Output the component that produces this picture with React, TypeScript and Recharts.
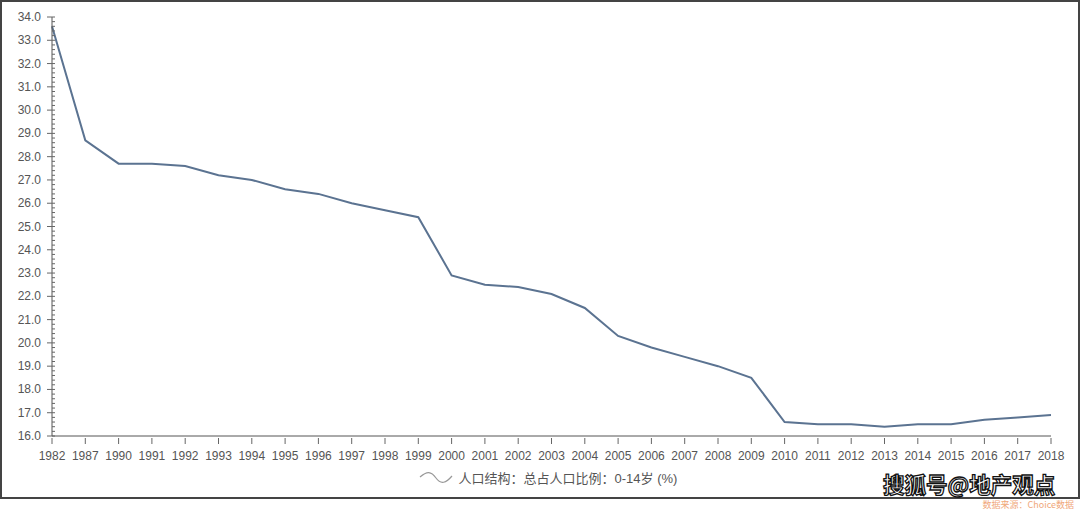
import { Legend, Line, LineChart, XAxis, YAxis } from "recharts";

const years = [
  "1982", "1987", "1990", "1991", "1992", "1993", "1994", "1995", "1996", "1997",
  "1998", "1999", "2000", "2001", "2002", "2003", "2004", "2005", "2006", "2007",
  "2008", "2009", "2010", "2011", "2012", "2013", "2014", "2015", "2016", "2017", "2018",
];

const share0to14 = [
  33.6, 28.7, 27.7, 27.7, 27.6, 27.2, 27.0, 26.6, 26.4, 26.0,
  25.7, 25.4, 22.9, 22.5, 22.4, 22.1, 21.5, 20.3, 19.8, 19.4,
  19.0, 18.5, 16.6, 16.5, 16.5, 16.4, 16.5, 16.5, 16.7, 16.8, 16.9,
];

const majorTicks = [16, 17, 18, 19, 20, 21, 22, 23, 24, 25, 26, 27, 28, 29, 30, 31, 32, 33, 34];
const minorStep = 0.2;

const seriesName = "人口结构：总占人口比例：0-14岁 (%)";
const lineColor = "#5b7391";
const textColor = "#555";

const data = years.map((year, i) => ({ year, value: share0to14[i] }));

// major ticks plus the small in-between marks
const yTicks: number[] = [];
for (let i = 0; i < majorTicks.length - 1; i++) {
  for (let k = 0; k < 5; k++) yTicks.push(+(majorTicks[i] + k * minorStep).toFixed(1));
}
yTicks.push(majorTicks[majorTicks.length - 1]);

const YTick = (props: any) => {
  const { x, y, payload } = props;
  const v = payload.value;
  const major = Math.abs(v - Math.round(v)) < 1e-6;
  return (
    <g>
      <line x1={major ? x - 5 : x} x2={x + 3} y1={y} y2={y} stroke="#666" strokeWidth={1} />
      {major && (
        <text x={x - 11} y={y} dy={4} textAnchor="end" fontSize={12} fill={textColor}>
          {v.toFixed(1)}
        </text>
      )}
    </g>
  );
};

const XTick = (props: any) => {
  const { x, y, payload } = props;
  return (
    <g>
      <line x1={x} x2={x} y1={y} y2={y + 6} stroke="#666" strokeWidth={1} />
      <text x={x} y={y + 22} textAnchor="middle" fontSize={12} fill={textColor}>
        {payload.value}
      </text>
    </g>
  );
};

const LegendContent = () => (
  <div style={{ display: "flex", justifyContent: "center", alignItems: "center", fontSize: 13, color: textColor, paddingLeft: 16 }}>
    <svg width={34} height={14} style={{ marginRight: 6 }}>
      <path d="M1,6 C8,0 12,0 17,7 C22,14 27,12 33,5" fill="none" stroke="#999" strokeWidth={1.2} />
    </svg>
    <span>{seriesName}</span>
  </div>
);

export default function App() {
  return (
    <div style={{ position: "absolute", left: 0, top: 0, width: 1080, height: 510, background: "#fff", fontFamily: "Arial, 'Liberation Sans', 'Noto Sans CJK SC', sans-serif" }}>
      <div style={{ position: "absolute", left: 0, top: 0, width: 1076, height: 495, border: "2px solid #444" }} />
      <LineChart width={1080} height={510} data={data} margin={{ top: 17, right: 29, bottom: 25, left: 0 }}>
        <XAxis
          dataKey="year"
          interval={0}
          tickLine={false}
          tickSize={0}
          tick={<XTick />}
          stroke="#555"
          height={30}
        />
        <YAxis
          domain={[16, 34]}
          ticks={yTicks}
          interval={0}
          tickLine={false}
          tickSize={0}
          tickMargin={0}
          tick={<YTick />}
          stroke="#555"
          width={52}
          allowDataOverflow
        />
        <Legend
          verticalAlign="bottom"
          content={<LegendContent />}
          wrapperStyle={{ position: "absolute", top: 468, left: 0, width: 1080 }}
        />
        <Line
          type="linear"
          dataKey="value"
          name={seriesName}
          stroke={lineColor}
          strokeWidth={2}
          dot={false}
          isAnimationActive={false}
        />
      </LineChart>
      <div
        style={{
          position: "absolute",
          left: 883,
          top: 471,
          fontSize: 21.5,
          lineHeight: "26px",
          fontWeight: 700,
          color: "#fff",
          WebkitTextStroke: "1.3px #111",
          fontFamily: "'Noto Sans CJK SC', sans-serif",
        }}
      >
        搜狐号@地产观点
      </div>
      <div style={{ position: "absolute", right: 6, top: 499, fontSize: 9, lineHeight: "11px", color: "#f0a77a", fontFamily: "'Noto Sans CJK SC', sans-serif" }}>
        数据来源：Choice数据
      </div>
    </div>
  );
}
